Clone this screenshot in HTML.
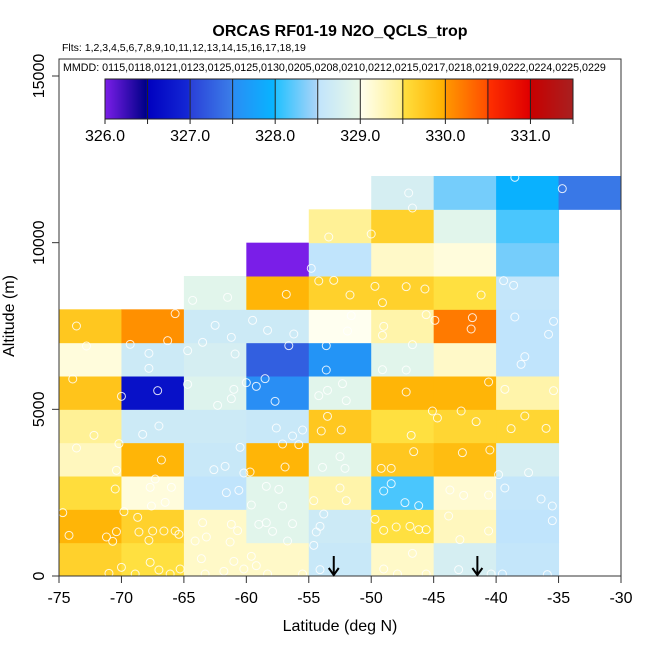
<!DOCTYPE html>
<html><head><meta charset="utf-8"><style>
body{margin:0;background:#fff;}
svg text{font-family:"Liberation Sans",Arial,sans-serif;}
</style></head><body>
<svg id="chart" width="650" height="650" viewBox="0 0 650 650" xmlns="http://www.w3.org/2000/svg">
<rect width="650" height="650" fill="#fff"/>
<text x="340" y="36" font-size="16" font-weight="bold" text-anchor="middle">ORCAS RF01-19 N2O_QCLS_trop</text>
<text x="62" y="51" font-size="10.5">Flts: 1,2,3,4,5,6,7,8,9,10,11,12,13,14,15,16,17,18,19</text>
<g id="cells"></g>
<g id="pts"></g>
<g id="cbar"></g>
<g id="axes"></g>
<text x="63" y="71" font-size="10.7">MMDD: 0115,0118,0121,0123,0125,0125,0130,0205,0208,0210,0212,0215,0217,0218,0219,0222,0224,0225,0229</text>
<text x="340" y="631" font-size="16" text-anchor="middle">Latitude (deg N)</text>
<text x="0" y="0" font-size="16" text-anchor="middle" transform="translate(14,316) rotate(-90)">Altitude (m)</text>
</svg>
<script>
const latBins = [-75,-70,-65,-60,-55,-50,-45,-40,-35];
const altBins = [0,1000,2000,3000,4000,5000,6000,7000,8000,9000,10000,11000];
// rows bottom(0-1k) to top(11-12k); columns -75..-35; null = no data
const cellValues = [
 [329.65,329.5,329.2,329.2,328.6,329.2,328.75,328.55],
 [329.93,329.65,329.2,328.9,328.65,329.5,329.25,328.5],
 [329.53,329.1,328.5,328.9,329.35,328.15,329.15,328.55],
 [329.25,329.93,328.6,329.93,328.9,329.75,329.85,328.75],
 [329.45,328.65,328.65,328.6,329.75,329.5,329.6,329.6],
 [329.78,326.7,328.85,327.52,328.9,329.93,329.93,329.35],
 [329.1,328.65,328.75,327.25,327.6,328.9,329.2,328.5],
 [329.75,330.05,328.65,328.65,329.0,329.35,330.2,328.5],
 [null,null,328.9,329.93,329.65,329.65,329.5,328.55],
 [null,null,null,326.0,328.5,329.2,329.1,328.3],
 [null,null,null,null,329.45,329.65,328.9,328.15],
 [null,null,null,null,null,328.75,328.3,327.95,327.45]
];
const cbarTicks = [326.0,327.0,328.0,329.0,330.0,331.0];
const xTicks = [-75,-70,-65,-60,-55,-50,-45,-40,-35,-30];
const yTicks = [0,5000,10000,15000];
const arrowLats = [-53,-41.5];
const ptLat = [-73.6,-72.8,-69.3,-66.3,-65.7,-67.8,-67.8,-67.1,-70.0,-73.9,-62.5,-63.5,-61.2,-58.3,-56.2,-56.6,-59.5,-60.9,-64.7,-58.5,-59.2,-57.7,-61.2,-62.3,-64.3,-61.5,-56.8,-54.2,-53.0,-51.7,-49.1,-49.7,-47.2,-45.7,-41.2,-39.4,-38.6,-54.8,-53.4,-50.0,-47.0,-46.7,-34.7,-38.5,-51.6,-49.0,-45.6,-41.9,-42.0,-44.9,-38.5,-35.8,-35.4,-37.7,-38.0,-53.6,-51.9,-53.6,-49.1,-47.2,-46.7,-49.1,-52.3,-53.5,-54.2,-52.0,-53.5,-54.0,-52.4,-47.2,-45.1,-42.8,-44.7,-41.6,-40.6,-39.3,-35.4,-37.7,-38.8,-36.0,-46.6,-42.7,-40.5,-49.2,-48.4,-52.1,-53.9,-52.5,-46.8,-37.4,-39.8,-49.0,-48.4,-47.3,-46.2,-52.5,-52.0,-54.6,-43.7,-42.6,-40.6,-39.3,-36.4,-35.5,-35.5,-49.0,-48.0,-46.9,-46.2,-45.6,-43.8,-42.9,-40.6,-49.7,-54.1,-54.4,-54.6,-53.8,-46.7,-43.0,-35.9,-49.0,-47.9,-45.6,-40.4,-39.5,-74.7,-74.2,-71.2,-70.4,-70.7,-68.7,-68.6,-67.5,-66.6,-65.7,-65.4,-67.8,-71.0,-70.0,-68.9,-67.7,-67.0,-66.1,-65.3,-69.8,-70.5,-67.6,-66.5,-66.0,-67.7,-67.3,-66.8,-70.4,-73.6,-72.2,-70.2,-68.3,-67.0,-64.7,-61.0,-60.0,-61.6,-60.6,-59.6,-58.4,-57.4,-57.1,-59.0,-58.4,-56.3,-56.7,-57.9,-63.5,-63.2,-61.2,-60.7,-64.1,-61.3,-63.6,-61.0,-59.6,-59.2,-63.3,-61.8,-60.2,-58.3,-55.5,-54.1,-62.6,-61.7,-60.2,-59.7,-60.5,-57.1,-55.8,-57.6,-56.3,-55.5,-56.9];
const ptAlt = [7500,6900,6950,7060,7870,6680,6230,5560,5390,5910,7520,7010,7160,7370,7260,6910,7670,6660,6760,5920,5690,5240,5320,5120,8270,8360,8450,8850,8870,8430,8200,8690,8680,8610,8430,8860,8720,9230,10170,10260,11490,11040,11620,11960,7810,7490,7840,7750,7410,7670,7770,7250,7640,6580,6350,6910,7350,6180,6190,6180,6940,7220,5770,5570,5410,5260,4790,4350,4380,5520,4950,4950,4740,4630,5820,5600,5560,4800,4420,4430,3730,3700,3780,3230,3230,3230,3260,3580,4220,3100,3040,2550,2770,2200,2110,2640,2260,2260,2580,2420,2430,2640,2310,2100,1660,1370,1470,1490,1390,1390,1800,1090,1350,1700,1490,1320,920,1860,680,190,40,210,60,60,60,60,1900,1220,1170,1330,1040,1760,1320,1350,1350,1350,1250,1070,80,260,60,410,180,60,210,1930,2610,2100,2210,2660,2660,2910,3480,3170,3840,4220,3970,4250,4500,5750,5600,5800,2500,2570,2130,2690,2600,2100,1550,1600,1570,1050,1340,1600,1170,1550,1360,1050,1020,520,440,590,310,60,140,210,60,60,190,3190,3290,3090,3120,3860,3960,3940,4440,4200,4380,3270];

const NS='http://www.w3.org/2000/svg';
const X0=59,X1=621,Y0=576,Y15=76,FT=59;
const xs=v=>X0+(v+75)/45*(X1-X0);
const ys=v=>Y0-(v/15000)*(Y0-Y15);
const stops=[[326.0,'#7a1ee8'],[326.48,'#000088'],[326.5,'#0000c0'],[326.98,'#1428d4'],[327.0,'#2a40d8'],[327.48,'#3a7ce8'],[327.5,'#2a8cf4'],[327.98,'#08b4ff'],[328.0,'#20c0ff'],[328.48,'#a8d4f8'],[328.5,'#c0e4fc'],[328.98,'#e8f8e8'],[329.0,'#fffff0'],[329.48,'#fff090'],[329.5,'#ffe040'],[329.98,'#ffb000'],[330.0,'#ff9800'],[330.48,'#ff5000'],[330.5,'#ff3000'],[330.98,'#e00000'],[331.0,'#c80000'],[331.5,'#a82020']];
function hex(h){return [1,3,5].map(i=>parseInt(h.substr(i,2),16));}
function pal(v){
  if(v<=stops[0][0])return stops[0][1];
  for(let i=1;i<stops.length;i++){
    if(v<=stops[i][0]){const a=hex(stops[i-1][1]),b=hex(stops[i][1]);const t=(v-stops[i-1][0])/(stops[i][0]-stops[i-1][0]);
      return 'rgb('+a.map((c,k)=>Math.round(c+(b[k]-c)*t)).join(',')+')';}
  }
  return stops[stops.length-1][1];
}
function mk(tag,attrs,parent){const e=document.createElementNS(NS,tag);for(const k in attrs)e.setAttribute(k,attrs[k]);parent.appendChild(e);return e;}

const gc=document.getElementById('cells');
cellValues.forEach((row,r)=>{row.forEach((v,c)=>{
  if(v===null)return;
  const e=mk('rect',{x:xs(latBins[c]),y:ys(altBins[r]+1000),width:xs(latBins[c]+5)-xs(latBins[c])+0.5,height:ys(altBins[r])-ys(altBins[r]+1000)+0.5,fill:pal(v)},gc);
  
  
});});

const gp=document.getElementById('pts');
ptLat.forEach((la,i)=>{
  const e=mk('circle',{cx:xs(la),cy:ys(ptAlt[i]),r:4,fill:'none',stroke:'#fff','stroke-width':1,opacity:0.85},gp);
  
  
});

const ga=document.getElementById('axes');
mk('rect',{x:X0,y:FT,width:X1-X0,height:Y0-FT,fill:'none',stroke:'#333','stroke-width':1},ga);
xTicks.forEach(t=>{
  mk('line',{x1:xs(t),x2:xs(t),y1:Y0,y2:Y0+7,stroke:'#333'},ga);
  const tx=mk('text',{x:xs(t),y:Y0+27,'font-size':16,'text-anchor':'middle'},ga);tx.textContent=t;
  
  
});
yTicks.forEach(t=>{
  mk('line',{x1:X0-7,x2:X0,y1:ys(t),y2:ys(t),stroke:'#333'},ga);
  const tx=mk('text',{x:0,y:0,'font-size':16,'text-anchor':'middle',transform:'translate('+(X0-15)+','+ys(t)+') rotate(-90)'},ga);tx.textContent=t;
  
  
});
arrowLats.forEach(la=>{
  const x=xs(la);
  const g=mk('g',{},ga);
  
  
  mk('line',{x1:x,x2:x,y1:Y0-20,y2:Y0-1,stroke:'#000','stroke-width':2},g);
  mk('polyline',{points:(x-5)+','+(Y0-8)+' '+x+','+(Y0-1)+' '+(x+5)+','+(Y0-8),fill:'none',stroke:'#000','stroke-width':2},g);
});

const gb=document.getElementById('cbar');
const CB0=105,CB1=573,CBT=79,CBB=119,VMIN=326.0,VMAX=331.5;
const cx=v=>CB0+(v-VMIN)/(VMAX-VMIN)*(CB1-CB0);
for(let p=CB0;p<CB1;p++){
  const v=VMIN+(p+0.5-CB0)/(CB1-CB0)*(VMAX-VMIN);
  mk('rect',{x:p,y:CBT,width:1.2,height:CBB-CBT,fill:pal(v)},gb);
}
for(let v=VMIN;v<=VMAX+1e-6;v+=0.5){
  mk('line',{x1:cx(v),x2:cx(v),y1:CBT,y2:CBB+5,stroke:'#222','stroke-width':1},gb);
}
mk('rect',{x:CB0,y:CBT,width:CB1-CB0,height:CBB-CBT,fill:'none',stroke:'#222'},gb);
cbarTicks.forEach(t=>{
  const tx=mk('text',{x:cx(t),y:141,'font-size':16,'text-anchor':'middle'},gb);tx.textContent=t.toFixed(1);
  
  
});
</script>
</body></html>
